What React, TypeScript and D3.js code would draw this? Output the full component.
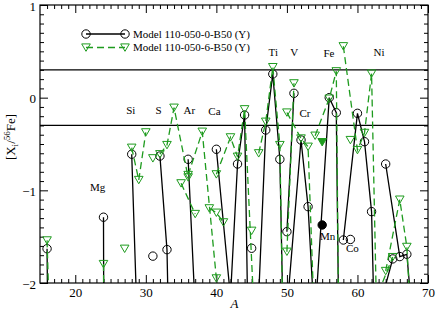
import React, { useEffect, useRef } from 'react';
import * as d3 from 'd3';

// isotopes, grouped by element (lines join isotopes of one element only)
const elementNames = ["O", "Mg", "Al", "Si", "P", "S", "Cl", "Ar", "K", "Ca", "Sc", "Ti", "V", "Cr", "Mn", "Fe", "Co", "Ni", "Cu", "Zn"];
const isotopeMasses = [
  [16, 17, 18], [24, 25, 26], [27], [28, 29, 30], [31], [32, 33, 34, 36], [35, 37], [36, 38, 40],
  [39, 40, 41], [40, 42, 43, 44, 46, 48], [45], [46, 47, 48, 49, 50], [50, 51], [50, 52, 53, 54],
  [55], [54, 56, 57, 58], [59], [58, 60, 61, 62, 64], [63, 65], [64, 66, 67, 68, 70],
];
// Model 110-050-0-B50 (Y)
const model0Values = [
  [-1.63, -10, -9], [-1.29, -30, -25], [-3], [-0.61, -2.95, -3.2], [-1.71], [-0.63, -1.64, -5.3, -6],
  [-3.5, -4], [-0.665, -3.9, -4], [-3.5, -3.6, -4], [-0.557, -2.15, -0.716, -0.187, -9.7, -3], [-1.625],
  [-2.14, -0.349, 0.255, -0.665, -4.5], [-1.446, 0.047], [-2.3, -0.457, -1.176, -2.55], [-1.374],
  [-2.35, 0.0, -0.162, -6.8], [-1.53], [-1.536, -0.169, -0.475, -1.23, -7.6], [-2.3, -1.74],
  [-0.716, -1.715, -1.69, -2.56, -3],
];
// Model 110-050-6-B50 (Y)
const model6Values = [
  [-1.54, -4.1, -4], [-1.795, -15, -10], [-1.63], [-0.54, -0.888, -0.374], [-0.654], [-0.61, -0.511, -0.108, -0.86],
  [-0.924, -1.255], [-0.834, -0.367, -1.95], [-1.194, -1.241, -1.345], [-0.827, -0.428, -0.637, -0.125, -3.39, -3],
  [-1.436], [-0.6, -0.259, 0.33, -0.511, -5], [-1.662, 0.155], [-0.16, -0.44, -0.529, -2.63], [-0.48],
  [-0.41, -0.01, 0.285, -7.8], [-0.457], [0.555, -0.565, -0.38, 0.26, -7], [-2.1, -1.72],
  [-1.87, -1.10, -1.61, -3.0, -3.5],
];
const filledElements = ["Mn"];

const labelNames = ["Mg", "Si", "S", "Ar", "Ca", "Ti", "V", "Cr", "Mn", "Fe", "Co", "Ni"];
const labelA = [23.18, 27.86, 31.82, 36.16, 39.73, 48.07, 51.05, 52.56, 55.78, 55.96, 59.27, 63.05];
const labelY = [-0.961, -0.133, -0.133, -0.133, -0.144, 0.496, 0.496, -0.169, -1.493, 0.485, -1.619, 0.496];

const refLines = [0.3, -0.3];
const xMajor = [20, 30, 40, 50, 60, 70];
const yMajor = [-2, -1, 0, 1];

const GREEN = '#1e9b1e';
const FONT = '"Liberation Serif", "Times New Roman", serif';

const App = () => {
  const svgRef = useRef<SVGSVGElement>(null);
  const width = 436, height = 311;

  useEffect(() => {
    const left = 40, right = 428, top = 5, bottom = 283;
    const x = d3.scaleLinear().domain([15, 70]).range([left, right]);
    const y = d3.scaleLinear().domain([-2, 1]).range([bottom, top]);

    const svg = d3.select(svgRef.current);
    svg.selectAll('*').remove();

    svg.append('defs').append('clipPath').attr('id', 'plotclip')
      .append('rect').attr('x', left).attr('y', top).attr('width', right - left).attr('height', bottom - top);

    // reference lines
    svg.selectAll('line.ref').data(refLines).enter().append('line')
      .attr('x1', left).attr('x2', right)
      .attr('y1', d => y(d)).attr('y2', d => y(d))
      .attr('stroke', '#000').attr('stroke-width', 1.3);

    // axes: inward ticks on all four sides
    const minorX = d3.range(16, 70).filter(v => v % 10 !== 0);
    const minorY = d3.range(-19, 10).map(v => v / 10).filter(v => Math.abs(v - Math.round(v)) > 1e-6);
    const axisStyle = (g: any) => {
      g.select('.domain').remove();
      g.selectAll('line').attr('stroke', '#000');
      g.selectAll('text').attr('font-family', FONT).attr('font-size', 13).attr('fill', '#000');
    };
    svg.append('g').attr('transform', `translate(0,${bottom})`)
      .call(d3.axisBottom(x).tickValues(xMajor).tickSize(-8).tickPadding(5).tickFormat(d3.format('d')))
      .call(axisStyle);
    svg.append('g').attr('transform', `translate(0,${bottom})`)
      .call(d3.axisBottom(x).tickValues(minorX).tickSize(-4).tickFormat(() => ''))
      .call(axisStyle);
    svg.append('g').attr('transform', `translate(0,${top})`)
      .call(d3.axisTop(x).tickValues(xMajor).tickSize(-8).tickFormat(() => ''))
      .call(axisStyle);
    svg.append('g').attr('transform', `translate(0,${top})`)
      .call(d3.axisTop(x).tickValues(minorX).tickSize(-4).tickFormat(() => ''))
      .call(axisStyle);
    svg.append('g').attr('transform', `translate(${left},0)`)
      .call(d3.axisLeft(y).tickValues(yMajor).tickSize(-8).tickPadding(4).tickFormat(d3.format('d')))
      .call(axisStyle)
      .call((g: any) => g.selectAll('text').attr('dy', '0.4em'));
    svg.append('g').attr('transform', `translate(${left},0)`)
      .call(d3.axisLeft(y).tickValues(minorY).tickSize(-4).tickFormat(() => ''))
      .call(axisStyle);
    svg.append('g').attr('transform', `translate(${right},0)`)
      .call(d3.axisRight(y).tickValues(yMajor).tickSize(-8).tickFormat(() => ''))
      .call(axisStyle);
    svg.append('g').attr('transform', `translate(${right},0)`)
      .call(d3.axisRight(y).tickValues(minorY).tickSize(-4).tickFormat(() => ''))
      .call(axisStyle);

    svg.append('rect').attr('x', left).attr('y', top).attr('width', right - left).attr('height', bottom - top)
      .attr('fill', 'none').attr('stroke', '#000').attr('stroke-width', 1.2);

    const line = d3.line<[number, number]>().x(d => x(d[0])).y(d => y(d[1]));
    const circle = d3.symbol().type(d3.symbolCircle).size(Math.PI * 4.2 * 4.2);
    const triPath = 'M-4.3,-3.6L4.3,-3.6L0,3.8Z';

    const series = [
      { vals: model0Values, color: '#000', dash: null, tri: false },
      { vals: model6Values, color: GREEN, dash: '7,4', tri: true },
    ];

    const plot = svg.append('g').attr('clip-path', 'url(#plotclip)');
    series.forEach(s => {
      const groups = elementNames.map((name, i) => ({
        name,
        pts: isotopeMasses[i].map((a, j) => [a, s.vals[i][j]] as [number, number]),
      }));
      plot.append('g').selectAll('path')
        .data(groups.filter(g => g.pts.length > 1))
        .enter().append('path')
        .attr('d', g => line(g.pts))
        .attr('fill', 'none')
        .attr('stroke', s.color)
        .attr('stroke-width', 1.3)
        .attr('stroke-dasharray', s.dash);
      const pts = groups.flatMap(g => g.pts.map(p => ({ p, filled: filledElements.includes(g.name) })));
      plot.append('g').selectAll('path')
        .data(pts.filter(d => d.p[1] >= -2.05))
        .enter().append('path')
        .attr('transform', d => `translate(${x(d.p[0])},${y(d.p[1])})`)
        .attr('d', s.tri ? triPath : circle())
        .attr('fill', d => d.filled ? s.color : 'none')
        .attr('stroke', s.color)
        .attr('stroke-width', 1);
    });

    // element labels
    svg.append('g').selectAll('text')
      .data(labelNames)
      .enter().append('text')
      .attr('x', (d, i) => x(labelA[i]))
      .attr('y', (d, i) => y(labelY[i]))
      .attr('dy', '0.35em')
      .attr('text-anchor', 'middle')
      .attr('font-family', FONT).attr('font-size', 11)
      .text(d => d);

    // legend
    const legend = svg.append('g').attr('font-family', FONT).attr('font-size', 11);
    legend.append('line').attr('x1', 86).attr('x2', 125).attr('y1', 34).attr('y2', 34)
      .attr('stroke', '#000').attr('stroke-width', 1.3);
    [86, 125].forEach(cx => legend.append('path').attr('transform', `translate(${cx},34)`)
      .attr('d', circle()).attr('fill', 'none').attr('stroke', '#000'));
    legend.append('text').attr('x', 133).attr('y', 37.5).text('Model 110-050-0-B50 (Y)');
    legend.append('line').attr('x1', 86).attr('x2', 125).attr('y1', 47.5).attr('y2', 47.5)
      .attr('stroke', GREEN).attr('stroke-width', 1.3).attr('stroke-dasharray', '7,4');
    [86, 125].forEach(cx => legend.append('path').attr('transform', `translate(${cx},47.5)`)
      .attr('d', triPath).attr('fill', 'none').attr('stroke', GREEN));
    legend.append('text').attr('x', 133).attr('y', 51).text('Model 110-050-6-B50 (Y)');

    // axis titles
    svg.append('text').attr('x', (left + right) / 2 + 0.5).attr('y', 307.5)
      .attr('text-anchor', 'middle').attr('font-family', FONT).attr('font-size', 13)
      .attr('font-style', 'italic').text('A');

    const yt = svg.append('text').attr('transform', 'translate(15,137) rotate(-90)')
      .attr('text-anchor', 'middle').attr('font-family', FONT).attr('font-size', 13);
    yt.append('tspan').text('[X');
    yt.append('tspan').attr('font-size', 9).attr('dy', 3).text('i');
    yt.append('tspan').attr('dy', -3).text('/');
    yt.append('tspan').attr('font-size', 9).attr('dy', -5).text('56');
    yt.append('tspan').attr('dy', 5).text('Fe]');
  }, []);

  return (
    <div style={{ position: 'absolute', left: 0, top: 0, background: '#fff' }}>
      <svg ref={svgRef} width={width} height={height} style={{ display: 'block' }} />
    </div>
  );
};

export default App;
